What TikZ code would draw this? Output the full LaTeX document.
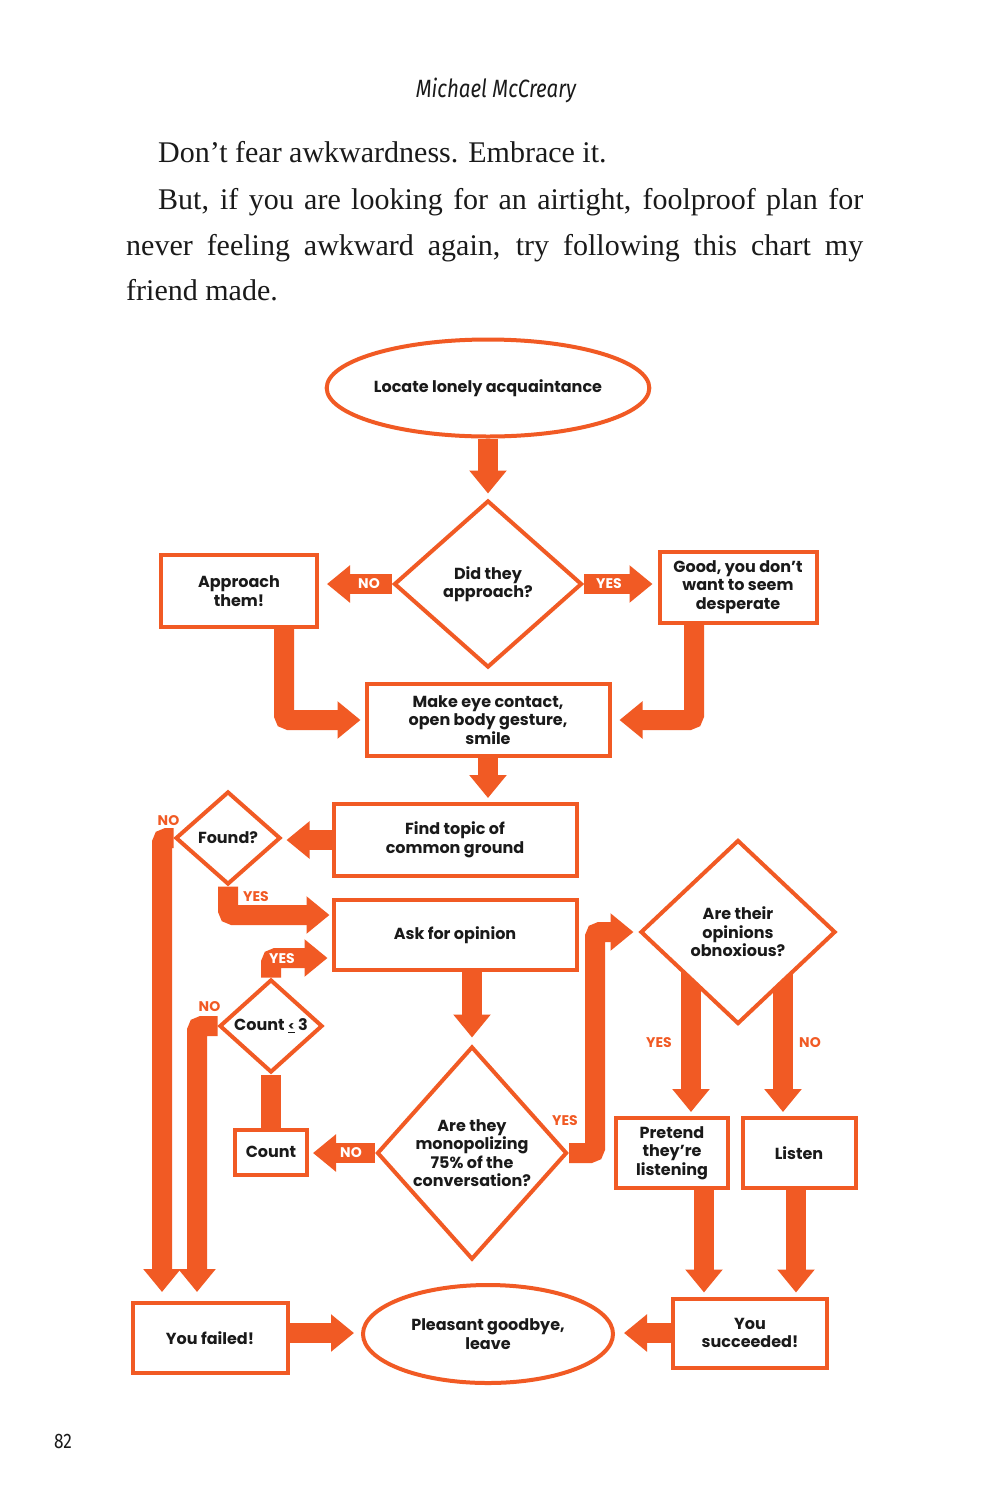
\documentclass[tikz,border=0pt]{standalone}
\usepackage{fontspec}
\setmainfont{Liberation Serif}
\newfontfamily\chartfont{Poppins}
\newfontfamily\headfont[FakeStretch=0.82]{Fira Sans}
\usepackage{xcolor}
\usepackage{tikz}
\usetikzlibrary{calc,positioning,shapes.geometric,arrows.meta}
\definecolor{brand}{HTML}{F15A24}
\definecolor{ink}{HTML}{1A1A1A}
\pgfdeclarelayer{paper}
\pgfdeclarelayer{back}
\pgfsetlayers{paper,back,main}
\tikzset{
  proc/.style={draw=brand, line width=4pt, fill=white, text=ink, inner sep=0pt, align=center,
    font=\chartfont\bfseries\fontsize{16}{18.5}\selectfont},
  ask/.style={proc, diamond, inner sep=-8pt},
  term/.style={proc, ellipse},
  flow/.style={draw=brand, line width=20pt, rounded corners=5pt, -{Triangle[width=36pt,length=23pt]}},
  bar/.style={draw=brand, line width=20pt},
  flowlab/.style={text=white, inner sep=0pt, font=\chartfont\bfseries\fontsize{14}{14}\selectfont},
  sidelab/.style={flowlab, text=brand},
  body/.style={anchor=base west, inner sep=0pt, text=ink, font=\fontsize{30}{30}\selectfont},
}

\begin{document}
\begin{tikzpicture}[x=1pt,y=-1pt]
  \useasboundingbox (0,0) rectangle (1000,1500);
  \begin{pgfonlayer}{paper}
    \fill[white] (0,0) rectangle (1000,1500);
  \end{pgfonlayer}

  % page text
  \node[anchor=base, inner sep=0pt, text=ink, font=\headfont\itshape\fontsize{25}{25}\selectfont] (tHead) at (496,97) {Michael McCreary};
  \node[body] (tLine1) at (158,162) {Don’t fear awkwardness. Embrace it.};
  \node[body] (tLine2) at (158,209) {\makebox[705pt][s]{But, if you are looking for an airtight, foolproof plan for}};
  \node[body] (tLine3) at (126,255) {\makebox[737pt][s]{never feeling awkward again, try following this chart my}};
  \node[body] (tLine4) at (126,300) {friend made.};
  \node[anchor=base, inner sep=0pt, text=ink, font=\headfont\fontsize{21}{21}\selectfont] (tPage) at (63,1448) {82};

  % chart
  \node[term, minimum width=309pt, minimum height=97pt] (tStart) at (488,388) {Locate lonely acquaintance};
  \node[ask, minimum width=188pt, minimum height=167pt] (dDid) at (488,584) {Did they\\approach?};
  \node[proc, minimum width=156pt, minimum height=72pt] (bApproach) at (239,591) {Approach\\them!};
  \node[proc, minimum width=157pt, minimum height=71pt] (bGood) at (738,587) {Good, you don’t\\want to seem\\desperate};
  \node[proc, minimum width=243pt, minimum height=72pt] (bEye) at (488,720) {Make eye contact,\\open body gesture,\\smile};
  \node[proc, minimum width=243pt, minimum height=72pt] (bTopic) at (455,840) {Find topic of\\common ground};
  \node[ask, minimum width=105pt, minimum height=93pt] (dFound) at (228,838) {Found?};
  \node[proc, minimum width=243pt, minimum height=70pt] (bOpinion) at (455,935) {Ask for opinion};
  \node[ask, minimum width=103pt, minimum height=93pt] (dCount) at (271,1026) {Count {\fontsize{12}{12}\selectfont\underline{<}} 3};
  \node[proc, minimum width=72pt, minimum height=45pt] (bCount) at (271,1152) {Count};
  \node[ask, minimum width=190pt, minimum height=213pt] (dMono) at (472,1153) {Are they\\monopolizing\\75\% of the\\conversation?};
  \node[ask, minimum width=195pt, minimum height=184pt] (dObn) at (738,932) {Are their\\opinions\\obnoxious?};
  \node[proc, minimum width=112pt, minimum height=70pt] (bPretend) at (672,1153) {Pretend\\they’re\\listening};
  \node[proc, minimum width=113pt, minimum height=70pt] (bListen) at (799,1153) {Listen};
  \node[proc, minimum width=154pt, minimum height=69pt] (bWin) at (750,1333) {You\\succeeded!};
  \node[term, minimum width=250pt, minimum height=98pt] (tEnd) at (488,1334) {Pleasant goodbye,\\leave};
  \node[proc, minimum width=155pt, minimum height=70pt] (bFail) at (210,1338) {You failed!};

  \coordinate (failNo) at ($(bFail.north)+(-48,0)$);
  \coordinate (failNo2) at ($(bFail.north)+(-13,0)$);
  \coordinate (failOut) at ($(bFail)+(0,-5)$);
  \coordinate (monoTurn) at ($(dMono.east)+(26,0)$);
  \coordinate (obnYes) at ($(dObn)+(-47,0)$);
  \coordinate (obnNo) at ($(dObn)+(45,0)$);
  \coordinate (prOut) at ($(bPretend)+(32,0)$);
  \coordinate (liOut) at ($(bListen)+(-3,0)$);

  % branch labels
  \node[flowlab] (lDidNo) at ($(dDid.west)+(-23,0)$) {NO};
  \node[flowlab] (lDidYes) at ($(dDid.east)+(25,0)$) {YES};
  \node[flowlab] (lCountYes) at ($(dCount.north)+(11,-19)$) {YES};
  \node[flowlab] (lMonoNo) at ($(dMono.west)+(-24,0)$) {NO};
  \node[sidelab] (lFoundNo) at ($(dFound.west)+(-5,-17)$) {NO};
  \node[sidelab] (lFoundYes) at ($(dFound.south)+(28,10)$) {YES};
  \node[sidelab] (lCountNo) at ($(dCount.west)+(-8,-19)$) {NO};
  \node[sidelab] (lMonoYes) at ($(dMono.east)+(-4,-32)$) {YES};
  \node[sidelab] (lObnYes) at ($(bPretend.north)+(-13,-73)$) {YES};
  \node[sidelab] (lObnNo) at ($(bListen.north)+(11,-73)$) {NO};

  \begin{pgfonlayer}{back}
    \draw[flow, shorten >=5pt] (tStart) -- (dDid.north);
    \draw[flow, shorten >=8pt] (dDid) -- (dDid -| bApproach.east);
    \draw[flow, shorten >=5pt] (dDid) -- (dDid -| bGood.west);
    \draw[flow, shorten >=4pt] ($(bApproach)+(45,0)$) |- (bEye.west);
    \draw[flow, shorten >=8pt] ($(bGood)+(-44,0)$) |- (bEye.east);
    \draw[flow, shorten >=4pt] (bEye) -- (bEye |- bTopic.north);
    \draw[flow, shorten >=4pt] (bTopic) -- (bTopic -| dFound.east);
    \draw[flow, shorten >=9pt] (dFound) -| (failNo);
    \draw[flow, shorten >=2pt] (dFound) |- ($(bOpinion.west)+(0,-20)$);
    \draw[flow, shorten >=4pt] (dCount) |- ($(bOpinion.west)+(0,23)$);
    \draw[flow, shorten >=9pt] (dCount) -| (failNo2);
    \draw[bar] (bCount) -- (dCount);
    \draw[flow, shorten >=7pt] (bOpinion -| dMono) -- (dMono.north);
    \draw[flow, shorten >=4pt] (dMono) -- (dMono -| bCount.east);
    \draw[flow, shorten >=5pt] (dMono) -- (monoTurn) |- (dObn.west);
    \draw[flow, shorten >=4pt] (obnYes) -- (obnYes |- bPretend.north);
    \draw[flow, shorten >=4pt] (obnNo) -- (obnNo |- bListen.north);
    \draw[flow, shorten >=4pt] (prOut) -- (prOut |- bWin.north);
    \draw[flow, shorten >=4pt] (liOut) -- (liOut |- bWin.north);
    \draw[flow, shorten >=9pt] (bWin) -- (bWin -| tEnd.east);
    \draw[flow, shorten >=7pt] (failOut) -- (failOut -| tEnd.west);
  \end{pgfonlayer}
\end{tikzpicture}
\end{document}
